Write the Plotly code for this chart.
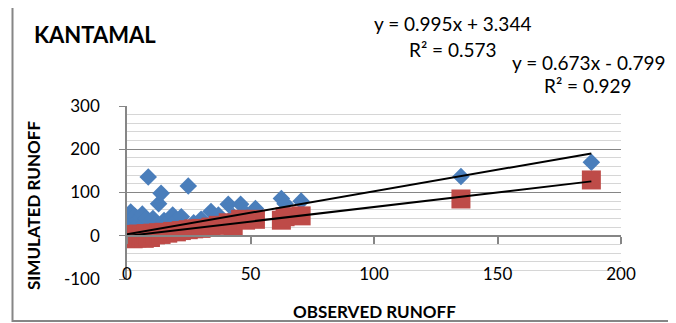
import plotly.graph_objects as go

# ---- data ----
observed = [0.0, 0.3, 0.6, 1.0, 1.5, 2.0, 2.5, 3.2, 4.0, 4.8, 5.5, 6.2, 7.0, 7.8,
            8.6, 9.5, 10.5, 11.5, 12.8, 13.8, 15.0, 16.5, 18.5, 20.0, 22.0, 24.8,
            27.0, 30.0, 34.0, 37.0, 41.0, 43.0, 46.0, 48.0, 52.0, 62.5, 64.0,
            70.5, 135.2, 188.0]
simulated_a = [44, 30, 38, 26, 55, 40, 33, 45, 36, 28, 42, 50, 30, 38,
               136, 32, 40, 28, 74, 98, 35, 30, 48, 36, 44, 115,
               30, 38, 56, 48, 73, 45, 73, 52, 63, 86, 74,
               80, 137, 170]
simulated_b = [-3, 2, -6, 0, -4, 3, -7, 1, -5, 4, -2, 2, -6, 5,
               0, -4, 6, 2, 7, 3, 8, 6, 10, 9, 12, 14,
               16, 17, 20, 24, 30, 22, 38, 36, 38, 36, 44,
               46, 85, 129]

trend_a = {"slope": 0.995, "intercept": 3.344, "r2": 0.573}
trend_b = {"slope": 0.673, "intercept": -0.799, "r2": 0.929}

title_text = "KANTAMAL"
x_title = "OBSERVED RUNOFF"
y_title = "SIMULATED RUNOFF"
x_ticks = [0, 50, 100, 150, 200]
y_ticks = [-100, 0, 100, 200, 300]
y_tick_text = ["-100", "0", "100", "200", "300"]

# ---- layout geometry (pixels); the page body adds an 8px offset ----
OFF = 8
W, H = 676 - OFF, 323 - OFF
L, T = 127 - OFF, 106 - OFF
PW, PH = 494, 173
R = W - L - PW
B = H - T - PH


def px(xs):
    """screen x (reference pixels) -> paper x"""
    return (xs - OFF - L) / PW


def py(ys):
    """screen y (reference pixels) -> paper y"""
    return (T + PH - (ys - OFF)) / PH


FONT = "Lato"
GRID = "#868686"
BLUE = "#4a7ebb"
RED = "#be4b48"

fig = go.Figure()

fig.add_trace(go.Scatter(
    x=observed, y=simulated_a, mode="markers", name="Series A",
    marker=dict(symbol="diamond", size=13.5, color=BLUE, line=dict(width=0)),
    showlegend=False))
fig.add_trace(go.Scatter(
    x=observed, y=simulated_b, mode="markers", name="Series B",
    marker=dict(symbol="square", size=19, color=RED, line=dict(width=0)),
    showlegend=False))

x_lo, x_hi = min(observed), max(observed)
for tr in (trend_a, trend_b):
    fig.add_trace(go.Scatter(
        x=[x_lo, x_hi],
        y=[tr["slope"] * x_lo + tr["intercept"], tr["slope"] * x_hi + tr["intercept"]],
        mode="lines", line=dict(color="black", width=2),
        xaxis="x2", yaxis="y", showlegend=False, hoverinfo="skip"))

fig.update_layout(
    width=W, height=H,
    margin=dict(l=L, r=R, t=T, b=B, autoexpand=False),
    paper_bgcolor="white", plot_bgcolor="white",
    font=dict(family=FONT, color="black"),
    showlegend=False,
    xaxis=dict(range=[0, 200], tickvals=x_ticks, showgrid=False, showline=False,
               zeroline=False, ticks="", tickfont=dict(size=17),
               ticklabelstandoff=-17),
    xaxis2=dict(range=[0, 200], tickvals=x_ticks, overlaying="x", anchor="free",
                position=0.25, showgrid=False, showline=True, linecolor=GRID,
                linewidth=1.5, ticks="outside", ticklen=7, tickcolor=GRID,
                tickwidth=1.5, showticklabels=False, zeroline=False),
    yaxis=dict(range=[-100, 300], tickvals=y_ticks, ticktext=y_tick_text,
               showgrid=True, gridcolor=GRID,
               gridwidth=1, showline=True, linecolor=GRID, linewidth=1.5,
               ticks="outside", ticklen=6, tickcolor=GRID, zeroline=False,
               tickfont=dict(size=17), ticklabelstandoff=16,
               minor=dict(dtick=20, showgrid=True, gridcolor="#d6d6d6", gridwidth=1,
                          ticks="")),
    shapes=[dict(type="rect", xref="paper", yref="paper",
                 x0=px(12.5), x1=px(669), y0=py(321), y1=py(3.5),
                 line=dict(color=GRID, width=2), layer="below")],
    annotations=[
        dict(text="<b>%s</b>" % title_text, xref="paper", yref="paper",
             x=px(32), y=py(34), xanchor="left", yanchor="middle",
             showarrow=False, font=dict(size=22)),
        dict(text="y = %.3fx + %.3f" % (trend_a["slope"], trend_a["intercept"]),
             xref="paper", yref="paper", x=px(452), y=py(24),
             xanchor="center", yanchor="middle", showarrow=False, font=dict(size=19)),
        dict(text="R² = %.3f" % trend_a["r2"], xref="paper", yref="paper",
             x=px(453), y=py(50), xanchor="center", yanchor="middle",
             showarrow=False, font=dict(size=19)),
        dict(text="y = %.3fx - %.3f" % (trend_b["slope"], abs(trend_b["intercept"])),
             xref="paper", yref="paper", x=px(588), y=py(63),
             xanchor="center", yanchor="middle", showarrow=False, font=dict(size=19)),
        dict(text="R² = %.3f" % trend_b["r2"], xref="paper", yref="paper",
             x=px(588), y=py(85), xanchor="center", yanchor="middle",
             showarrow=False, font=dict(size=19)),
        dict(text="<b>%s</b>" % x_title, xref="paper", yref="paper",
             x=px(374), y=py(311.5), xanchor="center", yanchor="middle",
             showarrow=False, font=dict(size=17)),
        dict(text="<b>%s</b>" % y_title, xref="paper", yref="paper",
             x=px(33), y=py(206), xanchor="center", yanchor="middle",
             textangle=-90, showarrow=False, font=dict(size=17)),
    ],
)

fig.write_html("out.html")
